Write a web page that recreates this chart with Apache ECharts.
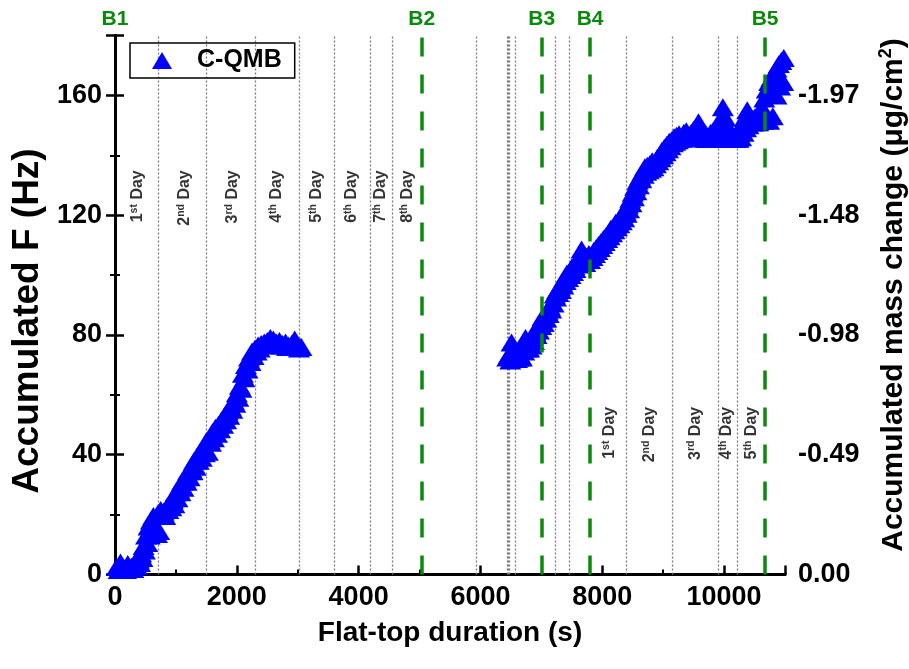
<!DOCTYPE html>
<html>
<head>
<meta charset="utf-8">
<title>Accumulated F vs flat-top duration</title>
<script src="https://cdn.jsdelivr.net/npm/echarts@6/dist/echarts.min.js"></script>
<style>
  html, body { margin: 0; padding: 0; background: #fff; overflow: hidden; }
  #chart { width: 909px; height: 669px; }
</style>
</head>
<body>
<div id="chart"></div>
<script>
// Accumulated frequency shift [time (s), F (Hz)] for the first run
const cycle1Points = [
  [30,2.5],[90,4.0],[150,2.0],[210,3.5],[270,2.6],[330,4.2],[390,5.0],[430,7.0],[470,9.5],[510,13.0],
  [550,16.0],[590,18.0],[630,19.5],[670,15.5],[710,20.5],[750,21.5],[800,21.0],[850,22.5],[900,23.5],[950,25.0],
  [1000,27.5],[1050,28.5],[1100,31.0],[1150,32.0],[1200,34.5],[1250,35.5],[1300,38.0],[1350,39.5],[1400,41.0],[1450,42.0],
  [1500,44.5],[1550,45.0],[1600,47.5],[1650,49.0],[1700,50.0],[1750,51.5],[1800,53.0],[1850,54.5],[1900,56.0],[1950,58.0],
  [2000,60.5],[2050,63.0],[2100,67.0],[2150,70.0],[2200,72.5],[2250,74.5],[2300,75.5],[2350,76.5],[2400,77.0],[2450,77.5],
  [2500,78.0],[2550,79.0],[2600,78.5],[2650,77.5],[2700,78.0],[2750,77.0],[2800,77.5],[2850,76.5],[2900,77.0],[2950,78.5],
  [3000,76.5],[3040,76.0],[3060,76.0]
];
// Lower-lying readings in the same run
const cycle1Spread = [
  [60,1.5],[120,1.6],[180,1.5],[240,1.8],[300,1.8],[360,2.8],[410,3.8],[450,5.5],[490,8.0],[530,10.5],
  [570,13.0],[610,14.5],[650,14.0],[690,13.5],[725,14.5],[775,19.5],[825,19.5],[875,21.5],[925,22.5],[975,23.5],
  [1025,25.5],[1075,27.5],[1125,29.0],[1175,31.0],[1225,32.5],[1275,34.5],[1325,36.0],[1375,38.0],[1425,39.0],[1475,40.5],
  [1525,41.0],[1575,44.0],[1625,45.5],[1675,47.0],[1725,48.5],[1775,50.0],[1825,51.5],[1875,53.0],[1925,55.0],[1975,57.0],
  [2025,59.0],[2075,62.0],[2125,65.5],[2175,68.5],[2225,71.0],[2275,73.0],[2325,74.5],[2375,75.5],[2425,76.5],[2475,77.0],
  [2525,77.0],[2575,77.5],[2625,77.0],[2675,77.0],[2725,76.5],[2775,76.5],[2825,76.0],[2875,76.0],[2925,76.0],[2975,76.0],
  [3020,75.5]
];

// Accumulated frequency shift [time (s), F (Hz)] for the second run
const cycle2Points = [
  [6440,72.5],[6470,73.5],[6510,77.5],[6540,72.0],[6580,73.0],[6620,74.5],[6660,73.0],[6700,77.0],[6740,79.0],[6780,76.0],
  [6820,78.0],[6860,79.5],[6900,81.0],[6940,83.0],[6980,84.0],[7020,86.0],[7060,85.5],[7100,88.0],[7140,89.5],[7180,91.0],
  [7220,93.5],[7260,95.0],[7300,96.0],[7340,97.5],[7380,99.0],[7420,100.5],[7460,101.0],[7500,102.5],[7540,103.0],[7580,104.5],
  [7620,106.0],[7660,108.5],[7700,105.0],[7740,106.0],[7780,107.0],[7820,106.5],[7860,108.0],[7900,109.0],[7940,110.0],[7980,111.0],
  [8020,112.0],[8060,113.0],[8100,114.0],[8140,115.5],[8180,116.0],[8220,117.5],[8260,118.0],[8300,119.5],[8340,120.5],[8380,121.5],
  [8420,123.5],[8460,125.5],[8500,127.5],[8540,129.5],[8580,131.5],[8620,133.0],[8660,134.5],[8700,136.0],[8740,136.5],[8780,137.0],
  [8820,138.0],[8860,137.5],[8900,139.0],[8940,140.0],[8980,141.5],[9020,142.5],[9060,143.5],[9100,144.5],[9140,145.0],[9180,146.0],
  [9220,146.5],[9260,147.0],[9300,146.0],[9340,147.5],[9380,148.0],[9420,146.5],[9460,147.5],[9500,148.5],[9540,147.0],[9580,151.0],
  [9620,147.5],[9660,146.0],[9700,147.0],[9740,145.5],[9780,147.5],[9820,148.0],[9860,146.5],[9900,149.0],[9940,152.0],[9980,156.0],
  [10020,152.5],[10060,149.5],[10100,147.5],[10140,146.0],[10180,145.5],[10220,146.5],[10260,148.0],[10300,150.5],[10340,152.5],[10380,155.0],
  [10420,152.0],[10460,151.0],[10500,152.5],[10540,151.5],[10580,153.5],[10620,156.0],[10660,159.0],[10700,162.0],[10740,164.5],[10780,166.0],
  [10820,167.5],[10860,169.0],[10900,170.5],[10940,171.5],[10980,172.5]
];
// Lower-lying readings in the same run
const cycle2Spread = [
  [6490,71.5],[6560,72.0],[6600,72.0],[6640,72.5],[6680,72.5],[6720,74.5],[6760,75.5],[6800,75.5],[6840,76.5],[6880,78.0],
  [6920,80.0],[6960,81.5],[7000,83.0],[7040,84.0],[7080,85.5],[7120,87.0],[7160,88.5],[7200,90.5],[7240,92.5],[7280,94.0],
  [7320,95.0],[7360,96.5],[7400,98.0],[7440,99.0],[7480,100.0],[7520,101.0],[7560,102.0],[7600,103.5],[7640,104.0],[7680,104.0],
  [7720,104.0],[7760,105.0],[7800,105.0],[7840,106.0],[7880,107.0],[7920,108.0],[7960,109.0],[8000,110.0],[8040,111.0],[8080,112.0],
  [8120,113.0],[8160,114.0],[8200,115.0],[8240,116.0],[8280,117.0],[8320,118.0],[8360,119.0],[8400,120.5],[8440,122.0],[8480,124.0],
  [8520,126.0],[8560,128.0],[8600,130.0],[8640,132.0],[8680,133.5],[8720,134.5],[8760,135.0],[8800,135.5],[8840,136.0],[8880,137.0],
  [8920,138.0],[8960,139.0],[9000,140.0],[9040,141.0],[9080,142.0],[9120,143.0],[9160,144.0],[9200,144.5],[9240,145.0],[9280,145.5],
  [9320,145.5],[9360,146.0],[9400,146.0],[9440,146.0],[9480,146.0],[9520,146.0],[9560,146.0],[9600,146.0],[9640,146.0],[9680,145.5],
  [9720,145.5],[9760,145.5],[9800,145.5],[9840,145.5],[9880,145.5],[9920,146.0],[9960,147.0],[10000,146.5],[10040,146.0],[10080,145.5],
  [10120,145.5],[10160,145.5],[10200,145.5],[10240,145.5],[10280,146.0],[10320,147.5],[10360,149.0],[10400,150.0],[10440,151.0],[10480,151.0],
  [10520,151.0],[10560,151.0],[10600,151.5],[10640,151.5],[10680,152.0],[10740,151.5],[10800,153.0],[10860,160.0],[10920,163.0],[10970,164.5]
];

// Baseline markers
const baselineTimes = [0, 5036, 7007, 7800, 10673];
const baselineNames = ['B1', 'B2', 'B3', 'B4', 'B5'];

// Day boundaries (dotted guides)
const dayBoundaryTimes = [711, 1506, 2299, 3026, 3601, 4187, 4553,
  5934, 6440, 6458, 6476, 6570, 7225, 7460, 8391, 9151, 9897, 10209];

// Day captions: position along time, top end of caption (Hz), ordinal
const dayLabelTimes = [378, 1149, 1938, 2660, 3317, 3892, 4368, 4811, 8128, 8785, 9524, 10044, 10455];
const dayLabelLevels = [135, 135, 135, 135, 135, 135, 135, 135, 56, 56, 56, 56, 56];
const dayNumbers = [1, 2, 3, 4, 5, 6, 7, 8, 1, 2, 3, 4, 5];

// Axis tick labels
const bottomTickStep = 2000;
const leftTickLabels = ['0', '40', '80', '120', '160'];
const rightTickLabels = ['0.00', '-0.49', '-0.98', '-1.48', '-1.97'];

const FONT = '"Liberation Sans", Arial, sans-serif';
const GREEN = '#0a8a0a';

function ordinalSuffix(n) {
  return n === 1 ? 'st' : n === 2 ? 'nd' : n === 3 ? 'rd' : 'th';
}

const dayLabelData = dayLabelTimes.map((t, i) => [t, dayLabelLevels[i], dayNumbers[i]]);
const qmbData = cycle1Spread.concat(cycle1Points, cycle2Spread, cycle2Points);

const chart = echarts.init(document.getElementById('chart'), null, { renderer: 'canvas' });

const tickCommon = {
  axisLine: { show: true, lineStyle: { color: '#000', width: 3 } },
  axisTick: { show: true, inside: true, length: 9, lineStyle: { color: '#000', width: 2.5 } },
  minorTick: { show: true, splitNumber: 2, length: 5, lineStyle: { color: '#000', width: 2 } },
  splitLine: { show: false },
  minorSplitLine: { show: false }
};

chart.setOption({
  animation: false,
  backgroundColor: '#fff',
  textStyle: { fontFamily: FONT },
  grid: { left: 115, right: 124, top: 35.5, bottom: 94.5, containLabel: false, outerBoundsMode: 'none' },
  legend: {
    left: 130,
    top: 43,
    padding: [5, 13, 5, 22],
    borderColor: '#000',
    borderWidth: 1.5,
    itemWidth: 20,
    itemHeight: 17,
    selectedMode: false,
    data: [{ name: 'C-QMB', icon: 'triangle' }],
    textStyle: {
      fontFamily: FONT, fontSize: 25, fontWeight: 'bold', color: '#000',
      padding: [0, 0, 0, 20]
    }
  },
  xAxis: [
    Object.assign({
      type: 'value', position: 'bottom', min: 0, max: 11000, interval: 2000,
      name: 'Flat-top duration (s)', nameLocation: 'middle', nameGap: 45,
      nameTextStyle: { fontFamily: FONT, fontSize: 28, fontWeight: 'bold', color: '#000' },
      axisLabel: {
        margin: 10, fontFamily: FONT, fontSize: 27, fontWeight: 'bold', color: '#000',
        formatter: v => (v % bottomTickStep === 0 && v <= 10000) ? String(v) : ''
      }
    }, tickCommon),
    {
      type: 'value', position: 'top', min: 0, max: 11000,
      axisLine: { show: true, lineStyle: { color: '#000', width: 3 } },
      axisTick: { show: false }, axisLabel: { show: false }, splitLine: { show: false }
    }
  ],
  yAxis: [
    Object.assign({
      type: 'value', position: 'left', min: 0, max: 180, interval: 40,
      name: 'Accumulated F (Hz)', nameLocation: 'middle', nameRotate: 90, nameGap: 67,
      nameTextStyle: {
        fontFamily: FONT, fontSize: 37, fontWeight: 'bold', color: '#000',
        padding: [0, 32, 0, 0]
      },
      axisLabel: {
        margin: 13, fontFamily: FONT, fontSize: 27, fontWeight: 'bold', color: '#000',
        formatter: v => (v % 40 === 0 && v / 40 < leftTickLabels.length) ? leftTickLabels[v / 40] : ''
      }
    }, tickCommon),
    Object.assign({
      type: 'value', position: 'right', min: 0, max: 180, interval: 40,
      name: '{t|Accumulated mass change (μg/cm}{s|2}{t|)}',
      nameLocation: 'middle', nameRotate: 90, nameGap: 92,
      nameTextStyle: {
        fontFamily: FONT, fontSize: 30, fontWeight: 'bold', color: '#000',
        padding: [0, 0, 0, 20],
        rich: {
          t: { fontFamily: FONT, fontSize: 30, fontWeight: 'bold', color: '#000', lineHeight: 34, verticalAlign: 'middle' },
          s: { fontFamily: FONT, fontSize: 18, fontWeight: 'bold', color: '#000', lineHeight: 34, verticalAlign: 'top' }
        }
      },
      axisLabel: {
        margin: 13, fontFamily: FONT, fontSize: 27, fontWeight: 'bold', color: '#000',
        formatter: v => (v % 40 === 0 && v / 40 < rightTickLabels.length) ? rightTickLabels[v / 40] : ''
      }
    }, tickCommon)
  ],
  series: [
    {
      // day captions + dotted day boundaries (behind the data)
      name: 'days',
      type: 'scatter',
      silent: true,
      z: 1,
      symbolSize: 1,
      itemStyle: { color: 'rgba(0,0,0,0)' },
      data: dayLabelData,
      label: {
        show: true,
        position: 'inside',
        rotate: 90,
        align: 'right',
        verticalAlign: 'middle',
        formatter: p => '{n|' + p.data[2] + '}{s|' + ordinalSuffix(p.data[2]) + '}{n| Day}',
        rich: {
          n: { fontFamily: FONT, fontSize: 16, fontWeight: 'bold', color: '#000', lineHeight: 19, verticalAlign: 'middle' },
          s: { fontFamily: FONT, fontSize: 10.5, fontWeight: 'bold', color: '#000', lineHeight: 19, verticalAlign: 'top' }
        }
      },
      markLine: {
        silent: true,
        z: 1,
        symbol: ['none', 'none'],
        label: { show: false },
        lineStyle: { color: '#7a7a7a', width: 1.3, type: [2, 2] },
        data: dayBoundaryTimes.map(t => ({ xAxis: t }))
      }
    },
    {
      name: 'C-QMB',
      type: 'scatter',
      z: 2,
      symbol: 'triangle',
      symbolSize: [22, 18],
      itemStyle: { color: '#0000ff', opacity: 1 },
      clip: true,
      data: qmbData
    },
    {
      // baseline markers drawn above the data
      name: 'baselines',
      type: 'line',
      silent: true,
      data: [],
      markLine: {
        silent: true,
        z: 5,
        symbol: ['none', 'none'],
        lineStyle: { color: GREEN, width: 3.5, type: [19, 18] },
        label: {
          show: true, position: 'end', distance: 6,
          fontFamily: FONT, fontSize: 21, fontWeight: 'bold', color: GREEN,
          formatter: p => p.name
        },
        data: baselineTimes.map((t, i) => ({
          xAxis: t,
          name: baselineNames[i],
          lineStyle: i === 0 ? { color: 'rgba(0,0,0,0)' } : undefined
        }))
      }
    }
  ]
});
</script>
</body>
</html>
